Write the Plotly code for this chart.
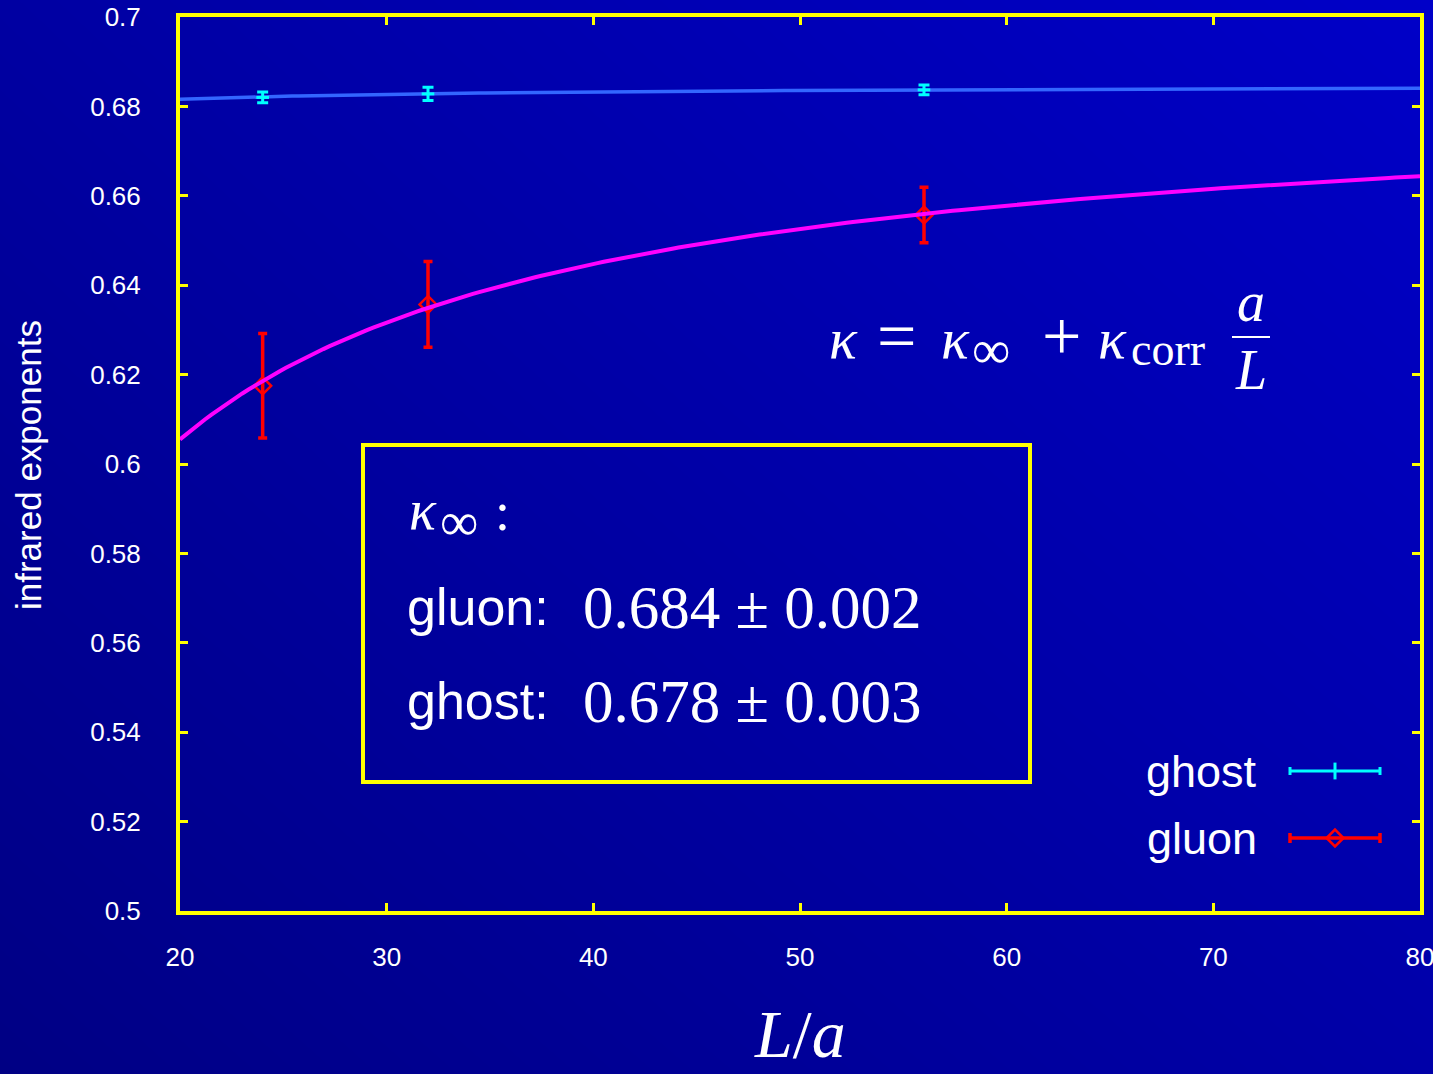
import numpy as np
import plotly.graph_objects as go

# ---- data -------------------------------------------------------------
lattice_sizes = [24, 32, 56]                      # L/a

ghost_kappa = [0.6820, 0.6828, 0.6837]
ghost_err = [0.0012, 0.0015, 0.0011]

gluon_kappa = [0.6175, 0.6357, 0.6557]
gluon_err = [0.0117, 0.0096, 0.0062]

# fit  kappa(L) = kappa_inf + kappa_corr * a/L
gluon_fit = {"kappa_inf": 0.684, "kappa_corr": -1.57}
ghost_fit = {"kappa_inf": 0.6849, "kappa_corr": -0.066}

x_ticks = [20, 30, 40, 50, 60, 70, 80]
y_ticks = [0.5, 0.52, 0.54, 0.56, 0.58, 0.6, 0.62, 0.64, 0.66, 0.68, 0.7]

# ---- page geometry ------------------------------------------------------
W, H = 1433, 1074
PLOT_L, PLOT_R, PLOT_T, PLOT_B = 180, 1420, 17, 911


def px(x):
    return x / W


def py(y):
    return 1 - y / H


YELLOW = "#ffff00"
WHITE = "#ffffff"
SANS = "Liberation Sans"
SERIF = "Liberation Serif"

fig = go.Figure()

# background gradient on a full-page helper subplot (x / y)
fig.add_trace(go.Heatmap(
    x=[0, 1], y=[0, 1],
    z=[[132, 168], [162, 200]],
    zmin=130, zmax=205,
    colorscale=[[0, "rgb(0,0,130)"], [1, "rgb(0,0,205)"]],
    zsmooth="best", showscale=False, hoverinfo="skip",
    xaxis="x", yaxis="y",
))

# fit curves
L_fine = np.linspace(20, 80, 200)


def fit_curve(p):
    return p["kappa_inf"] + p["kappa_corr"] / L_fine


fig.add_trace(go.Scatter(
    x=L_fine, y=fit_curve(ghost_fit), mode="lines",
    line=dict(color="#3366ff", width=3.5),
    xaxis="x2", yaxis="y2", hoverinfo="skip",
))

fig.add_trace(go.Scatter(
    x=lattice_sizes, y=ghost_kappa, mode="markers",
    marker=dict(symbol="line-ew-open", size=9, color="#00ffff",
                line=dict(color="#00ffff", width=3)),
    error_y=dict(type="data", array=ghost_err, color="#00ffff",
                 thickness=3, width=5.5),
    xaxis="x2", yaxis="y2",
))

fig.add_trace(go.Scatter(
    x=lattice_sizes, y=gluon_kappa, mode="markers",
    marker=dict(symbol="diamond-open", size=13, color="#ff0000",
                line=dict(color="#ff0000", width=2.5)),
    error_y=dict(type="data", array=gluon_err, color="#ff0000",
                 thickness=3.5, width=4.5),
    xaxis="x2", yaxis="y2",
))

fig.add_trace(go.Scatter(
    x=L_fine, y=fit_curve(gluon_fit), mode="lines",
    line=dict(color="#ff00ff", width=4),
    xaxis="x2", yaxis="y2", hoverinfo="skip",
))

# legend samples, placed in page coordinates on the helper subplot
LEG_X0, LEG_X1 = 1290, 1380
leg_half = (LEG_X1 - LEG_X0) / 2 / W
fig.add_trace(go.Scatter(
    x=[px((LEG_X0 + LEG_X1) / 2)], y=[py(771)], mode="markers",
    marker=dict(symbol="line-ns-open", size=12, color="#00ffff",
                line=dict(color="#00ffff", width=3)),
    error_x=dict(type="constant", value=leg_half, color="#00ffff",
                 thickness=3, width=4),
    xaxis="x", yaxis="y", hoverinfo="skip",
))
fig.add_trace(go.Scatter(
    x=[px((LEG_X0 + LEG_X1) / 2)], y=[py(838)], mode="markers",
    marker=dict(symbol="diamond-open", size=13, color="#ff0000",
                line=dict(color="#ff0000", width=2.5)),
    error_x=dict(type="constant", value=leg_half, color="#ff0000",
                 thickness=3.5, width=5),
    xaxis="x", yaxis="y", hoverinfo="skip",
))

# ---- text ---------------------------------------------------------------
ann = []


def text(x, y, s, size, family=SANS, xanchor="center", angle=0,
         yanchor="middle"):
    ann.append(dict(
        x=px(x), y=py(y), xref="paper", yref="paper", text=s,
        showarrow=False, xanchor=xanchor, yanchor=yanchor, borderpad=0,
        textangle=angle, font=dict(family=family, size=size, color=WHITE),
    ))


text(28, 465, "infrared exponents", 35, angle=-90)
text(800, 1073, "<i>L</i>/<i>a</i>", 68, family=SERIF, yanchor="bottom")

text(1258, 771, "ghost", 45, xanchor="right")
text(1258, 838, "gluon", 45, xanchor="right")

# kappa = kappa_inf + kappa_corr * a/L, set piece by piece
text(828, 338, "<i>κ</i>", 58, family=SERIF, xanchor="left")
text(897, 336, "=", 70, family=SERIF)
text(940, 338, "<i>κ</i>", 58, family=SERIF, xanchor="left")
text(971, 350, "∞", 54, family=SERIF, xanchor="left")
text(1061, 336, "+", 70, family=SERIF)
text(1097, 338, "<i>κ</i>", 58, family=SERIF, xanchor="left")
text(1130, 349, "corr", 46, family=SERIF, xanchor="left")
text(1251, 302, "<i>a</i>", 56, family=SERIF)
text(1251, 370, "<i>L</i>", 56, family=SERIF)

text(408, 510, "<i>κ</i>", 56, family=SERIF, xanchor="left")
text(439, 522, "∞", 54, family=SERIF, xanchor="left")
text(494, 512, ":", 54, family=SERIF, xanchor="left")
text(406, 607, "gluon:", 52, xanchor="left")
text(582, 607, "0.684 ± 0.002", 61, family=SERIF, xanchor="left")
text(406, 701, "ghost:", 52, xanchor="left")
text(582, 701, "0.678 ± 0.003", 61, family=SERIF, xanchor="left")

shapes = [
    # fraction bar of a/L
    dict(type="line", xref="paper", yref="paper",
         x0=px(1232), x1=px(1270), y0=py(337), y1=py(337),
         line=dict(color=WHITE, width=2)),
    # result box
    dict(type="rect", xref="paper", yref="paper",
         x0=px(363), x1=px(1030), y0=py(445), y1=py(782),
         line=dict(color=YELLOW, width=4)),
]

axis_common = dict(
    showgrid=False, zeroline=False, showline=True, linecolor=YELLOW,
    linewidth=4, mirror="ticks", ticks="inside", ticklen=8,
    tickwidth=3, tickcolor=YELLOW, automargin=False,
    ticklabeloverflow="allow",
    tickfont=dict(family=SANS, size=26, color=WHITE),
)

fig.update_layout(
    width=W, height=H,
    margin=dict(l=0, r=0, t=0, b=0, autoexpand=False),
    paper_bgcolor="rgb(0,0,150)",
    plot_bgcolor="rgba(0,0,0,0)",
    showlegend=False,
    xaxis=dict(domain=[0, 1], range=[0, 1], visible=False, fixedrange=True),
    yaxis=dict(domain=[0, 1], range=[0, 1], visible=False, fixedrange=True),
    xaxis2=dict(domain=[px(PLOT_L), px(PLOT_R)], range=[20, 80],
                tickvals=x_ticks, ticktext=[str(v) for v in x_ticks],
                anchor="y2", ticklabelstandoff=20, **axis_common),
    yaxis2=dict(domain=[py(PLOT_B), py(PLOT_T)], range=[0.5, 0.7],
                tickvals=y_ticks, ticktext=[f"{v:g}" for v in y_ticks],
                anchor="x2", ticklabelstandoff=30, **axis_common),
    annotations=ann,
    shapes=shapes,
)

fig.write_html("out.html")
